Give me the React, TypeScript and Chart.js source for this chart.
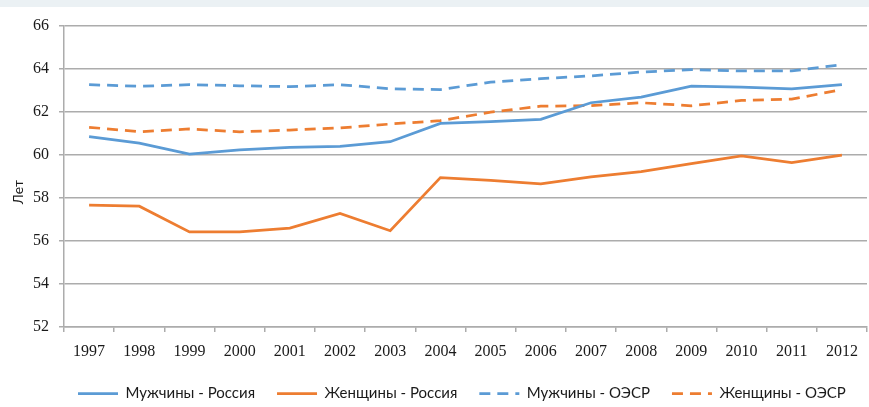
import React, { useEffect, useRef } from 'react';
import { Chart, registerables } from 'chart.js';

Chart.register(...registerables);

const years = ['1997', '1998', '1999', '2000', '2001', '2002', '2003', '2004', '2005', '2006', '2007', '2008', '2009', '2010', '2011', '2012'];
const menRussia = [60.85, 60.55, 60.04, 60.24, 60.35, 60.4, 60.62, 61.47, 61.55, 61.66, 62.43, 62.69, 63.2, 63.16, 63.08, 63.27];
const womenRussia = [57.67, 57.62, 56.42, 56.42, 56.6, 57.28, 56.48, 58.95, 58.82, 58.66, 58.98, 59.23, 59.6, 59.96, 59.65, 59.99];
const menOECD = [63.27, 63.2, 63.27, 63.22, 63.18, 63.27, 63.08, 63.04, 63.39, 63.55, 63.68, 63.86, 63.97, 63.91, 63.91, 64.2];
const womenOECD = [61.29, 61.08, 61.21, 61.08, 61.16, 61.26, 61.44, 61.6, 61.99, 62.27, 62.3, 62.43, 62.29, 62.54, 62.6, 63.04];
const seriesNames = ['Мужчины - Россия', 'Женщины - Россия', 'Мужчины - ОЭСР', 'Женщины - ОЭСР'];
const yAxisTitle = 'Лет';

const BLUE = '#5b9bd5';
const ORANGE = '#ed7d31';
const GRID = '#acacac';
const SERIF = '"Liberation Serif", "Times New Roman", serif';
const SANS = 'Lato, "Liberation Sans", sans-serif';
const LINE_W = 2.75;

const legendShift = {
  id: 'legendShift',
  afterLayout(chart: any) {
    const lg = chart.legend;
    if (!lg) return;
    const pad = lg.options.labels.padding;
    const dx = 78 - pad - lg.left;
    lg.left += dx;
    lg.right += dx;
    lg.top += 4;
    lg.bottom += 4;
  },
};

const yTitle = {
  id: 'yTitle',
  afterDraw(chart: any) {
    const c = chart.ctx;
    c.save();
    c.translate(18, 192);
    c.rotate(-Math.PI / 2);
    c.font = '14px ' + SANS;
    c.fillStyle = '#1a1a1a';
    c.textAlign = 'center';
    c.textBaseline = 'middle';
    c.fillText(yAxisTitle, 0, 0);
    c.restore();
  },
};

export default function App() {
  const ref = useRef<HTMLCanvasElement>(null);
  useEffect(() => {
    document.body.style.margin = '0';
    const ctx = ref.current!;
    const dash = [11, 7];
    const chart = new Chart(ctx, {
      type: 'line',
      data: {
        labels: years,
        datasets: [
          { label: seriesNames[0], data: menRussia, borderColor: BLUE, backgroundColor: BLUE, borderWidth: LINE_W, pointRadius: 0, tension: 0 },
          { label: seriesNames[1], data: womenRussia, borderColor: ORANGE, backgroundColor: ORANGE, borderWidth: LINE_W, pointRadius: 0, tension: 0 },
          { label: seriesNames[2], data: menOECD, borderColor: BLUE, backgroundColor: BLUE, borderWidth: LINE_W, borderDash: dash, pointRadius: 0, tension: 0 },
          { label: seriesNames[3], data: womenOECD, borderColor: ORANGE, backgroundColor: ORANGE, borderWidth: LINE_W, borderDash: dash, pointRadius: 0, tension: 0 },
        ],
      },
      options: {
        responsive: false,
        animation: false,
        events: [],
        layout: { padding: { top: 26, right: 2, left: 0, bottom: 0 } },
        scales: {
          x: {
            offset: true,
            grid: { offset: true, drawOnChartArea: false, drawTicks: true, tickLength: 5, color: GRID, lineWidth: 1.5 },
            border: { display: true, color: GRID, width: 1.5 },
            ticks: { color: '#1a1a1a', font: { family: SERIF, size: 16 }, padding: 10, maxRotation: 0, autoSkip: false },
            afterFit: (s: any) => { s.height = 33; },
          },
          y: {
            min: 52,
            max: 66,
            ticks: { stepSize: 2, color: '#1a1a1a', font: { family: SERIF, size: 16 }, padding: 10 },
            grid: { color: GRID, lineWidth: 1.5, tickLength: 5, drawTicks: true },
            border: { display: true, color: GRID, width: 1.5 },
            title: { display: false },
            afterFit: (s: any) => { s.width = 64; },
          },
        },
        plugins: {
          legend: {
            position: 'bottom',
            align: 'start',
            labels: {
              usePointStyle: true,
              pointStyle: 'line',
              pointStyleWidth: 40,
              color: '#1a1a1a',
              font: { family: SANS, size: 15 },
              padding: 22,
              generateLabels: (c: any) => {
                const items = (Chart as any).defaults.plugins.legend.labels.generateLabels(c);
                items.forEach((it: any, i: number) => {
                  const ds: any = c.data.datasets[i];
                  it.lineDash = ds.borderDash || [];
                  it.lineWidth = LINE_W;
                  it.strokeStyle = ds.borderColor;
                  it.fillStyle = ds.borderColor;
                  it.pointStyle = 'line';
                });
                return items;
              },
            },
          },
          tooltip: { enabled: false },
        },
      },
      plugins: [legendShift, yTitle],
    });
    return () => chart.destroy();
  }, []);
  return (
    <div style={{ position: 'relative', width: 869, height: 407, background: '#fff' }}>
      <div style={{ position: 'absolute', left: 0, top: 0, width: 869, height: 7, background: '#ebf1f4' }} />
      <canvas ref={ref} width={869} height={407} style={{ position: 'absolute', left: 0, top: 0 }} />
    </div>
  );
}
